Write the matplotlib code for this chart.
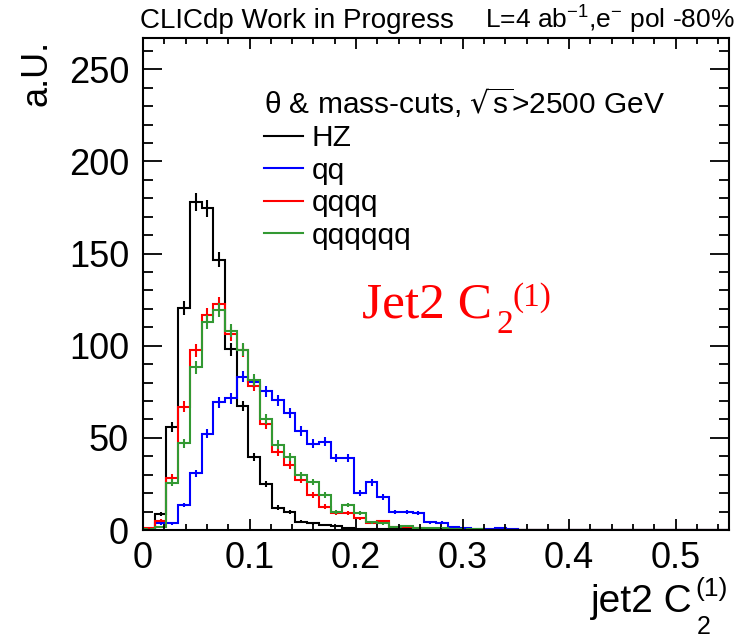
import numpy as np
import matplotlib
matplotlib.use("Agg")
import matplotlib.pyplot as plt
from matplotlib.lines import Line2D
from matplotlib.ticker import MultipleLocator

plt.rcParams['font.family'] = ['Liberation Sans', 'DejaVu Sans']

# jet2 C2(1) distribution, 50 bins from 0 to 0.55
bin_edges = np.linspace(0.0, 0.55, 51)

hz = [0.5, 8.5, 56, 120.5, 178, 174.5, 146.7, 98, 67.4, 39.5,
      25, 12.1, 9.8, 4.5, 3.6, 2.5, 2, 1, 0.6, 0.5,
      0.4, 0.3, 0.5, 0.2, 0.2, 0, 0, 0, 0, 0,
      0, 0, 0, 0, 0, 0, 0, 0, 0, 0,
      0, 0, 0, 0, 0, 0, 0, 0, 0, 0]
qq = [0.3, 3.6, 3.6, 13.6, 30.8, 52.2, 69.2, 71.6, 83.3, 80.1,
      75.2, 70.3, 63.4, 53.7, 46.8, 48, 39.3, 39, 19.9, 25.9,
      17.9, 9.6, 9.6, 9, 4.2, 4, 1.4, 1, 0.3, 0.3,
      1, 0.3, 0, 0, 0, 0, 0, 0, 0, 0,
      0, 0, 0, 0, 0, 0, 0, 0, 0, 0]
qqqq = [1, 5, 28.4, 67, 97.5, 116.8, 122.8, 106.3, 97.5, 78.3,
        57.4, 42.4, 35.2, 27.2, 19, 12.7, 9, 9, 6.3, 4,
        4.9, 1.8, 1.8, 1, 0.5, 0.4, 0.3, 0, 0, 0,
        0, 0, 0, 0, 0, 0, 0, 0, 0, 0,
        0, 0, 0, 0, 0, 0, 0, 0, 0, 0]
qqqqqq = [0.4, 1.8, 25.7, 47.1, 88.2, 112.7, 119.6, 108.2, 97.8, 81.5,
          60.1, 46.2, 39.6, 29.6, 26, 19, 9.6, 13.6, 9, 4.2,
          3.6, 1.8, 2.4, 1, 1, 1.3, 0.5, 0.3, 0.3, 0,
          0, 0, 0, 0, 0, 0, 0, 0, 0, 0,
          0, 0, 0, 0, 0, 0, 0, 0, 0, 0]

labels = ['HZ', 'qq', 'qqqq', 'qqqqqq']
colors = ['black', '#0000ff', '#ff0000', '#339933']
err_scale = 0.35   # per-event weight -> sqrt(sum w^2)

W, H = 739, 640
fig = plt.figure(figsize=(W / 100, H / 100), dpi=100)
ax = fig.add_axes([143 / W, 110 / H, 586 / W, 492 / H])


def px(x, y):
    # pixel position (from top-left) -> figure fraction
    return x / W, 1 - y / H


centers = 0.5 * (bin_edges[1:] + bin_edges[:-1])
for vals, col in zip([hz, qq, qqqq, qqqqqq], colors):
    v = np.array(vals, dtype=float)
    ax.stairs(v, bin_edges, color=col, lw=1.5)
    m = v > 0
    ax.errorbar(centers[m], v[m], yerr=err_scale * np.sqrt(v[m]),
                fmt='none', ecolor=col, elinewidth=1.5)

ax.set_xlim(0, 0.55)
ax.set_ylim(0, 267)
ax.xaxis.set_major_locator(MultipleLocator(0.1))
ax.xaxis.set_minor_locator(MultipleLocator(0.02))
ax.yaxis.set_major_locator(MultipleLocator(50))
ax.yaxis.set_minor_locator(MultipleLocator(10))
ax.set_xticks([0, 0.1, 0.2, 0.3, 0.4, 0.5])
ax.set_xticklabels(['0', '0.1', '0.2', '0.3', '0.4', '0.5'])
ax.tick_params(axis='both', which='both', direction='in', top=True, right=True,
               width=1.3, labelsize=26, colors='black')
ax.tick_params(axis='x', which='major', length=8, pad=8)
ax.tick_params(axis='x', which='minor', length=4)
ax.tick_params(axis='y', which='major', length=14, pad=10)
ax.tick_params(axis='y', which='minor', length=7)
for s in ax.spines.values():
    s.set_linewidth(1.5)

# axis titles, ROOT style
fig.text(*px(37, 40), 'a.U.', rotation=90, ha='center', va='top', fontsize=26)
fig.text(*px(693, 612), 'jet2 C', ha='right', va='baseline', fontsize=28)
fig.text(*px(695, 596), '(1)', ha='left', va='baseline', fontsize=19)
fig.text(*px(697, 634), '2', ha='left', va='baseline', fontsize=18)

# header
fig.text(*px(140, 28), 'CLICdp Work in Progress',
         ha='left', va='baseline', fontsize=20)
fig.text(*px(735, 28),
         r'L=4 ab$^{\mathregular{-1}}$,e$^{\mathregular{-}}$ pol -80%',
         ha='right', va='baseline', fontsize=19)

# red label inside the frame
fig.text(*px(362, 318), 'Jet2 C', family='Liberation Serif', color='red',
         ha='left', va='baseline', fontsize=37)
fig.text(*px(497, 333), '2', family='Liberation Serif', color='red',
         ha='left', va='baseline', fontsize=24)
fig.text(*px(513, 306), '(1)', family='Liberation Serif', color='red',
         ha='left', va='baseline', fontsize=24)

handles = [Line2D([], [], color=c, lw=1.5) for c in colors]
leg = ax.legend(handles, labels,
                title='θ & mass-cuts, $\\sqrt{\\mathregular{s}}$>2500 GeV',
                loc='upper left', bbox_to_anchor=px(264, 85),
                bbox_transform=fig.transFigure, frameon=False, fontsize=21.5,
                title_fontsize=21.5, alignment='left', handlelength=1.3,
                handletextpad=0.3, labelspacing=0.15, borderpad=0,
                borderaxespad=0)

fig.savefig('out.png', dpi=100)
